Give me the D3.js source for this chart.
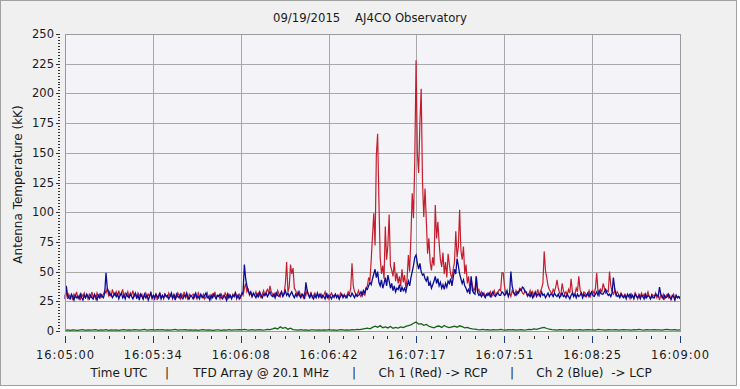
<!DOCTYPE html>
<html>
<head>
    <title>AJ4CO Observatory</title>
    <script src="https://d3js.org/d3.v7.min.js"></script>
    <style>
        body { margin: 0; background: #ffffff; }
        svg text { font-family: "DejaVu Sans", sans-serif; fill: #1a1a1a; }
    </style>
</head>
<body>
    <svg id="chart" width="740" height="389"></svg>

    <script>
        // Ch 1 (red, RCP), kK, one sample every 0.5 s from 16:05:00
        const ch1 = [
            29,32,27,31,28,30,26,31,29,33,
            28,30,27,31,29,32,28,30,27,31,
            29,33,28,30,27,32,29,31,28,30,
            31,34,32,36,30,33,29,35,31,30,
            33,29,34,30,31,35,29,32,30,33,
            28,32,30,34,29,31,27,32,30,29,
            31,27,30,32,28,31,29,33,27,30,
            29,31,26,30,32,28,30,27,31,29,
            28,32,29,30,27,31,29,28,32,30,
            27,31,29,33,28,30,26,31,29,30,
            31,28,30,27,32,29,30,28,31,27,
            29,32,28,30,27,31,29,33,28,30,
            30,27,31,29,28,32,30,27,31,29,
            28,31,29,33,27,30,31,28,32,30,
            36,40,33,35,30,32,29,31,30,33,
            29,32,30,28,31,34,30,33,35,32,
            38,33,31,29,32,30,34,31,29,33,
            30,32,40,58,33,37,56,48,53,36,
            34,31,30,33,29,31,28,32,30,34,
            31,29,33,28,30,32,29,31,28,30,
            31,28,30,33,29,31,27,30,32,29,
            28,31,29,30,27,32,30,29,31,28,
            30,33,31,36,57,38,33,31,30,34,
            31,29,33,31,30,36,38,45,42,60,
            80,99,72,148,166,110,62,48,55,44,
            88,60,72,98,55,51,46,58,42,49,
            40,46,38,52,41,47,36,44,64,50,
            80,116,95,144,228,150,133,175,204,127,
            96,120,93,65,78,58,51,62,55,106,
            78,92,74,60,54,66,48,58,45,65,
            56,48,44,52,58,84,62,71,102,68,
            60,71,48,56,40,46,35,44,38,34,
            36,46,33,35,31,33,30,32,29,31,
            32,30,33,29,31,34,30,32,33,35,
            34,49,49,38,31,33,30,32,29,34,
            32,30,34,31,33,36,35,32,31,34,
            32,29,31,34,30,33,29,32,31,35,
            30,33,36,40,67,51,45,38,35,33,
            31,35,33,37,43,36,32,30,40,34,
            31,33,30,35,32,44,33,30,31,36,
            33,46,35,31,30,33,32,29,31,34,
            29,32,34,31,36,49,33,30,35,33,
            40,36,32,34,33,50,38,33,31,34,
            30,33,31,29,32,30,29,31,28,30,
            30,27,31,29,28,32,30,27,31,29,
            32,29,31,28,30,33,29,27,31,30,
            29,32,28,31,26,30,28,31,27,29,
            31,28,30,26,29,31,27,30,28,29,
            28
        ];

        // Ch 2 (blue, LCP), kK, same 0.5 s samples
        const ch2 = [
            27,38,30,28,27,31,29,26,30,28,
            29,27,31,28,26,30,28,31,29,27,
            30,28,27,31,29,26,30,28,31,29,
            28,32,49,36,33,30,31,28,30,32,
            29,31,27,30,32,28,30,27,31,29,
            28,31,29,27,30,32,28,30,26,31,
            29,27,31,28,30,26,29,32,28,30,
            27,31,29,28,32,27,30,28,31,29,
            30,27,29,32,28,30,26,31,29,28,
            31,28,27,30,29,32,28,27,30,29,
            27,30,32,28,29,27,31,29,28,30,
            32,28,29,26,30,28,31,29,27,30,
            29,31,28,27,30,29,26,31,28,30,
            27,30,29,32,28,30,27,29,31,33,
            56,44,38,34,31,33,29,32,30,28,
            31,29,33,30,28,31,30,32,29,31,
            33,30,29,31,28,32,30,29,31,33,
            29,31,34,30,32,29,31,33,30,28,
            31,29,33,30,28,31,30,27,41,34,
            30,28,31,29,27,30,28,32,29,31,
            28,30,29,27,31,28,30,29,27,30,
            29,31,28,30,27,29,31,28,30,29,
            28,31,30,29,32,30,28,31,29,30,
            31,33,30,34,32,36,35,38,41,39,
            44,48,52,45,50,41,38,43,36,40,
            45,38,47,42,36,40,34,38,33,36,
            35,39,33,37,34,36,33,38,42,38,
            45,50,55,62,64,57,52,57,50,47,
            48,44,42,46,38,41,36,39,42,46,
            40,44,38,41,36,39,35,40,37,42,
            40,44,38,45,52,48,61,55,48,44,
            40,43,38,36,33,35,31,46,34,32,
            31,46,33,30,31,29,32,30,28,31,
            30,32,29,31,33,30,29,31,32,30,
            30,33,32,30,31,34,29,32,50,38,
            33,31,30,33,32,35,34,37,36,33,
            33,30,31,29,32,28,30,33,29,31,
            31,29,33,30,31,28,30,32,29,31,
            31,29,32,30,29,31,28,30,32,29,
            30,28,31,29,27,30,32,29,31,28,
            31,29,30,32,28,31,29,30,32,29,
            31,33,30,29,31,33,30,34,32,31,
            31,33,35,32,30,31,29,32,45,36,
            31,29,30,28,31,29,28,30,27,31,
            29,31,28,30,27,31,29,28,30,27,
            30,29,27,31,28,30,29,27,30,28,
            28,31,30,29,37,31,29,27,30,28,
            29,31,28,27,30,29,26,30,28,29,
            27
        ];

        // difference trace (green), kK, one sample per second
        const diff = [
            0.5,1,0.5,1,0.8,0.5,1,1.2,0.6,1,
            0.8,1,1.2,0.6,1,0.8,1.1,0.6,1,0.8,
            1,0.6,0.9,1.2,0.7,1,0.8,1.1,0.9,0.7,
            1,1.3,0.8,1,1.2,0.8,1.1,0.9,1.2,0.8,
            1,0.7,1,1.3,0.8,1,0.9,1.2,0.7,1,
            0.8,1,0.6,0.9,1.1,0.7,1,0.8,0.6,1,
            0.9,0.6,1,0.8,1.1,0.7,1,0.9,1.2,1,
            1.4,1,0.8,1.1,0.7,1,1.2,0.8,1,1.3,
            1.2,1.8,2.5,1.6,3.5,2.2,3,1.5,2.4,1.2,
            1,0.7,1.1,0.8,1,0.6,0.9,1,0.7,1,
            0.8,1,0.7,1.1,0.8,1,0.6,0.9,1.1,0.8,
            1,0.8,1.2,1,1.4,1.1,1.6,2,2.4,1.8,
            3,4,3.2,4.5,2.8,3.5,2.6,3.8,2.2,3,
            2.5,3.4,2.8,3.9,4.6,5.2,6.5,7.5,5.8,6.2,
            4.8,5.5,4,3.2,2.6,3.8,4.2,3,4.6,3.4,
            2.8,3.5,4,3.2,4.4,3.6,2.7,3.1,2.2,1.8,
            1.5,1.2,1,1.3,0.9,1.1,0.8,1.2,1,0.9,
            1.3,1,0.8,1.1,0.9,1.2,0.7,1,1.1,0.8,
            1,1.3,1.1,1.8,1.4,2,2.6,3,2.1,1.5,
            1.2,1,0.8,1.1,0.9,1,0.8,1.2,0.7,1,
            0.9,1.1,0.8,1,1.2,0.9,1,0.8,1.3,1.1,
            1,0.8,1.2,1,0.9,1.1,0.8,1,1.2,0.9,
            1,0.8,1.1,0.9,1.3,1,0.8,1.1,1,0.9,
            1.2,0.9,1,0.8,1.1,1.3,0.9,1,1.2,0.8,
            1
        ];

        const xTickLabels = ['16:05:00','16:05:34','16:06:08','16:06:42','16:07:17','16:07:51','16:08:25','16:09:00'];
        const yTicks = [0,25,50,75,100,125,150,175,200,225,250];
        const captionParts = ['Time UTC', '|', 'TFD Array @ 20.1 MHz', '|', 'Ch 1 (Red) -> RCP', '|', 'Ch 2 (Blue)  -> LCP'];

        const svg = d3.select('#chart');
        const W = 740, H = 389;
        const pLeft = 65, pRight = 680, pTop = 34, pBottom = 331;
        const span = 240; // seconds shown

        const x = d3.scaleLinear().domain([0, span]).range([pLeft, pRight]);
        const y = d3.scaleLinear().domain([0, 250]).range([pBottom, pTop]);

        // outer panel
        svg.append('rect').attr('width', W).attr('height', H).attr('fill', '#ffffff');
        svg.append('rect')
            .attr('x', 0.5).attr('y', 0.5).attr('width', 736).attr('height', 385)
            .attr('fill', '#f0f0f0').attr('stroke', '#a0a0a0');

        // plot background
        svg.append('rect')
            .attr('x', pLeft).attr('y', pTop)
            .attr('width', pRight - pLeft).attr('height', pBottom - pTop)
            .attr('fill', '#f4f4f8');

        // grid
        const majorX = d3.range(0, 8).map(i => i * span / 7);
        svg.append('g').selectAll('line').data(yTicks.slice(1, -1)).join('line')
            .attr('x1', pLeft).attr('x2', pRight)
            .attr('y1', d => Math.round(y(d)) + 0.5).attr('y2', d => Math.round(y(d)) + 0.5)
            .attr('stroke', '#a8a8a8');
        svg.append('g').selectAll('line').data(majorX.slice(1, -1)).join('line')
            .attr('x1', d => Math.round(x(d)) + 0.5).attr('x2', d => Math.round(x(d)) + 0.5)
            .attr('y1', pTop).attr('y2', pBottom)
            .attr('stroke', '#a8a8a8');

        // traces: sample i sits at i * span / (n - 1) seconds
        const line = series => d3.line()
            .x((d, i) => x(i * span / (series.length - 1)))
            .y(d => y(d))(series);

        const plot = svg.append('g');
        plot.append('path').attr('d', line(diff)).attr('fill', 'none')
            .attr('stroke', '#146414').attr('stroke-width', 1.3);
        plot.append('path').attr('d', line(ch1)).attr('fill', 'none')
            .attr('stroke', '#c41e2e').attr('stroke-width', 1.2);
        plot.append('path').attr('d', line(ch2)).attr('fill', 'none')
            .attr('stroke', '#0c0c96').attr('stroke-width', 1.3);

        // plot frame
        svg.append('rect')
            .attr('x', pLeft + 0.5).attr('y', pTop + 0.5)
            .attr('width', pRight - pLeft).attr('height', pBottom - pTop)
            .attr('fill', 'none').attr('stroke', '#9a9a9a');

        // y axis: dotted minor ticks + labels
        svg.append('g').selectAll('line').data(d3.range(0, 101).map(i => i * 2.5)).join('line')
            .attr('x1', d => yTicks.includes(d) ? 56 : 58).attr('x2', 60)
            .attr('y1', d => Math.round(y(d)) + 0.5).attr('y2', d => Math.round(y(d)) + 0.5)
            .attr('stroke', '#333');
        svg.append('g').selectAll('text').data(yTicks).join('text')
            .attr('x', 54).attr('y', d => y(d) + 4)
            .attr('text-anchor', 'end').attr('font-size', 11.5)
            .text(d => d);

        svg.append('text')
            .attr('transform', 'translate(22,' + ((pTop + pBottom) / 2 + 2) + ') rotate(-90)')
            .attr('text-anchor', 'middle').attr('font-size', 12)
            .text('Antenna Temperature (kK)');

        // x axis ticks
        svg.append('g').selectAll('line').data(d3.range(0, 43).map(i => i * span / 42)).join('line')
            .attr('x1', d => Math.round(x(d)) + 0.5).attr('x2', d => Math.round(x(d)) + 0.5)
            .attr('y1', 336).attr('y2', (d, i) => i % 6 === 0 ? 343 : 339)
            .attr('stroke', (d, i) => i % 6 === 0 ? '#1a3a8a' : '#333');
        svg.append('g').selectAll('text').data(xTickLabels).join('text')
            .attr('x', (d, i) => x(majorX[i])).attr('y', 359)
            .attr('text-anchor', 'middle').attr('font-size', 11.5)
            .attr('textLength', 58).attr('lengthAdjust', 'spacing')
            .text(d => d);

        // title
        svg.append('text')
            .attr('x', 370).attr('y', 22)
            .attr('text-anchor', 'middle').attr('font-size', 12.5)
            .attr('textLength', 194).attr('lengthAdjust', 'spacingAndGlyphs')
            .attr('xml:space', 'preserve').style('white-space', 'pre')
            .text('09/19/2015    AJ4CO Observatory');

        // caption
        const captionX = [119, 167, 261, 354, 433, 512, 594];
        svg.append('g').selectAll('text').data(captionParts).join('text')
            .attr('x', (d, i) => captionX[i]).attr('y', 377)
            .attr('text-anchor', 'middle').attr('font-size', 12)
            .style('white-space', 'pre')
            .text(d => d);
    </script>
</body>
</html>
